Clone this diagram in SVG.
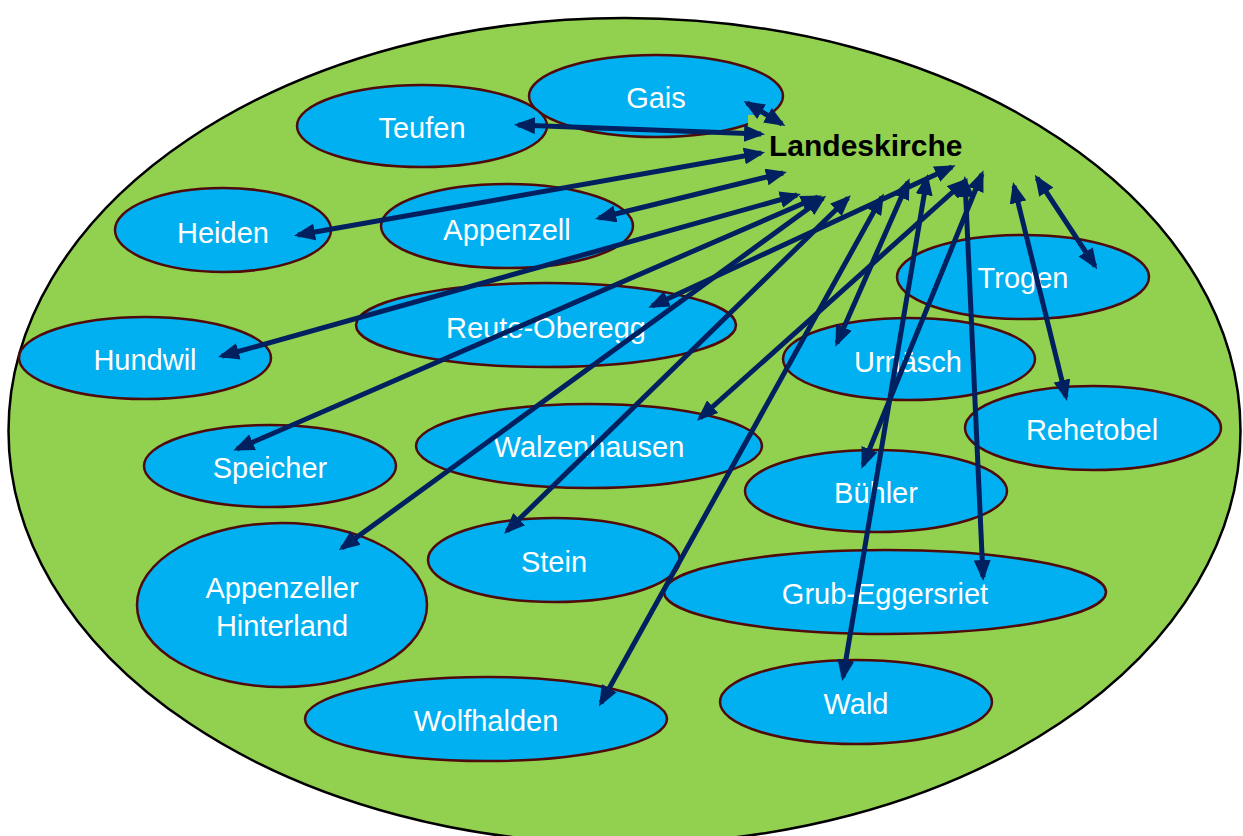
<svg xmlns="http://www.w3.org/2000/svg" width="1243" height="836" viewBox="0 0 1243 836">
<style>
.node{fill:#00B0F0;stroke:#500A0A;stroke-width:2.5}
.lbl{font-family:"Liberation Sans",Arial,sans-serif;font-size:29px;fill:#FFFFFF;text-anchor:middle}
.title{font-family:"Liberation Sans",Arial,sans-serif;font-size:30px;font-weight:bold;fill:#000000}
.arr{stroke:#002060;stroke-width:5;fill:none;marker-start:url(#ah);marker-end:url(#ah)}
</style>
<defs>
<marker id="ah" viewBox="0 0 21 17" refX="17" refY="8.5" markerWidth="21" markerHeight="17" markerUnits="userSpaceOnUse" orient="auto-start-reverse">
<path d="M0,0 L21,8.5 L0,17 z" fill="#002060"/>
</marker>
</defs>
<rect width="1243" height="836" fill="#FFFFFF"/>
<ellipse id="region" cx="624.5" cy="431" rx="616" ry="413" fill="#92D050" stroke="#000000" stroke-width="2.5"/>
<g id="nodes">
<g id="gais"><ellipse class="node" cx="656" cy="96" rx="127" ry="41"/><text class="lbl" x="656" y="108">Gais</text></g>
<g id="teufen"><ellipse class="node" cx="422" cy="126" rx="125" ry="41"/><text class="lbl" x="422" y="138">Teufen</text></g>
<g id="heiden"><ellipse class="node" cx="223" cy="230" rx="108" ry="42"/><text class="lbl" x="223" y="243">Heiden</text></g>
<g id="appenzell"><ellipse class="node" cx="507" cy="226" rx="126" ry="42"/><text class="lbl" x="507" y="240">Appenzell</text></g>
<g id="hundwil"><ellipse class="node" cx="145" cy="358" rx="126" ry="41"/><text class="lbl" x="145" y="370">Hundwil</text></g>
<g id="reute-oberegg"><ellipse class="node" cx="546" cy="325" rx="190" ry="42"/><text class="lbl" x="546" y="338">Reute-Oberegg</text></g>
<g id="trogen"><ellipse class="node" cx="1023" cy="277" rx="126" ry="42"/><text class="lbl" x="1023" y="288">Trogen</text></g>
<g id="urnaesch"><ellipse class="node" cx="909" cy="359" rx="126" ry="41"/><text class="lbl" x="908" y="372">Urnäsch</text></g>
<g id="rehetobel"><ellipse class="node" cx="1093" cy="428" rx="128" ry="42"/><text class="lbl" x="1092" y="440">Rehetobel</text></g>
<g id="speicher"><ellipse class="node" cx="270" cy="466" rx="126" ry="41"/><text class="lbl" x="270" y="478">Speicher</text></g>
<g id="walzenhausen"><ellipse class="node" cx="589" cy="446" rx="173" ry="42"/><text class="lbl" x="589" y="457">Walzenhausen</text></g>
<g id="buehler"><ellipse class="node" cx="876" cy="491" rx="131" ry="41"/><text class="lbl" x="876" y="503">Bühler</text></g>
<g id="stein"><ellipse class="node" cx="554" cy="560" rx="126" ry="42"/><text class="lbl" x="554" y="572">Stein</text></g>
<g id="appenzeller-hinterland"><ellipse class="node" cx="282" cy="605" rx="145" ry="82"/><text class="lbl" x="282" y="598">Appenzeller</text><text class="lbl" x="282" y="636">Hinterland</text></g>
<g id="grub-eggersriet"><ellipse class="node" cx="885" cy="592" rx="221" ry="42"/><text class="lbl" x="885" y="604">Grub-Eggersriet</text></g>
<g id="wald"><ellipse class="node" cx="856" cy="702" rx="136" ry="42"/><text class="lbl" x="856" y="714">Wald</text></g>
<g id="wolfhalden"><ellipse class="node" cx="486" cy="719" rx="181" ry="42"/><text class="lbl" x="486" y="731">Wolfhalden</text></g>
</g>
<g id="landeskirche"><rect x="748" y="115" width="225" height="50" fill="#92D050"/><text class="title" x="769" y="156">Landeskirche</text></g>
<g id="connectors">
<line class="arr" x1="747" y1="103" x2="782" y2="124"/>
<line class="arr" x1="518" y1="125" x2="761" y2="134"/>
<line class="arr" x1="298" y1="235" x2="761" y2="153"/>
<line class="arr" x1="599" y1="218" x2="783" y2="173"/>
<line class="arr" x1="222" y1="356" x2="797" y2="195"/>
<line class="arr" x1="237" y1="449" x2="818" y2="197"/>
<line class="arr" x1="342" y1="548" x2="823" y2="198"/>
<line class="arr" x1="507" y1="531" x2="848" y2="198"/>
<line class="arr" x1="601" y1="703" x2="882" y2="197"/>
<line class="arr" x1="652" y1="306" x2="952" y2="167"/>
<line class="arr" x1="700" y1="418" x2="965" y2="181"/>
<line class="arr" x1="837" y1="343" x2="908" y2="182"/>
<line class="arr" x1="843" y1="677" x2="927" y2="178"/>
<line class="arr" x1="863" y1="465" x2="982" y2="174"/>
<line class="arr" x1="983" y1="577" x2="965" y2="180"/>
<line class="arr" x1="1066" y1="397" x2="1014" y2="186"/>
<line class="arr" x1="1095" y1="266" x2="1037" y2="178"/>
</g>
</svg>
